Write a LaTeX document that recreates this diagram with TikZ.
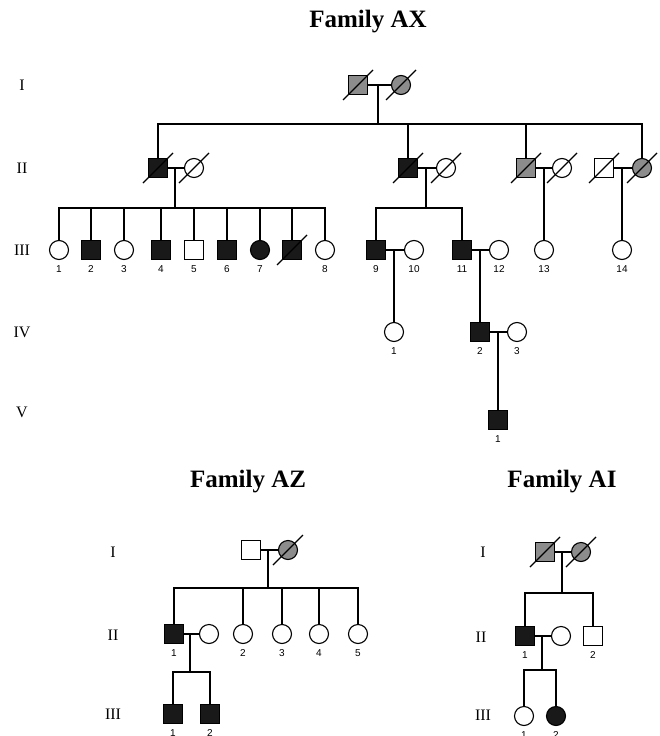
\documentclass[tikz,border=0pt]{standalone}
\usepackage{fontspec}
\setmainfont{Liberation Serif}
\setsansfont{Liberation Sans}
\usepackage{tikz}
\usetikzlibrary{positioning, calc}
\definecolor{affblack}{RGB}{25,25,25}
\definecolor{hatchgray}{RGB}{140,140,140}

\begin{document}
\begin{tikzpicture}[
    x=1pt, y=-1pt,
    link/.style={draw=black, line width=1.1pt},
    male/.style={
        rectangle, draw=black, line width=1.1pt,
        minimum size=19pt, inner sep=0pt, fill=white
    },
    female/.style={
        circle, draw=black, line width=1.1pt,
        minimum size=19pt, inner sep=0pt, fill=white
    },
    aff/.style={fill=affblack},
    carr/.style={fill=hatchgray},
    dead/.style={append after command={
        ([shift={(-15pt,-15pt)}]\tikzlastnode.center) edge[link]
        ([shift={(15pt,15pt)}]\tikzlastnode.center)}},
    num/.style={font=\sffamily\fontsize{10}{12}\selectfont, inner sep=1pt},
    every label/.style={num},
    label distance=4pt,
    gen/.style={font=\fontsize{16}{18}\selectfont},
    title/.style={font=\bfseries\fontsize{25}{28}\selectfont}
]
\useasboundingbox (0,0) rectangle (659,736);

% --- Family AX ---
\node[title] (axT) at (368,22) {Family AX};
\node[gen] (axgI)   at (22,85)  {I};
\node[gen] (axgII)  at (22,168) {II};
\node[gen] (axgIII) at (22,250) {III};
\node[gen] (axgIV)  at (22,332) {IV};
\node[gen] (axgV)   at (22,412) {V};

\node[male, carr, dead]   (axI1) at (358,85) {};
\node[female, carr, dead] (axI2) at (401,85) {};

\node[male, aff, dead]    (axII1) at (158,168) {};
\node[female, dead]       (axII2) at (194,168) {};
\node[male, aff, dead]    (axII3) at (408,168) {};
\node[female, dead]       (axII4) at (446,168) {};
\node[male, carr, dead]   (axII5) at (526,168) {};
\node[female, dead]       (axII6) at (562,168) {};
\node[male, dead]         (axII7) at (604,168) {};
\node[female, carr, dead] (axII8) at (642,168) {};

\node[female, label=below:1]     (axIII1) at (59,250)  {};
\node[male, aff, label=below:2]  (axIII2) at (91,250)  {};
\node[female, label=below:3]     (axIII3) at (124,250) {};
\node[male, aff, label=below:4]  (axIII4) at (161,250) {};
\node[male, label=below:5]       (axIII5) at (194,250) {};
\node[male, aff, label=below:6]  (axIII6) at (227,250) {};
\node[female, aff, label=below:7](axIII7) at (260,250) {};
\node[male, aff, dead]           (axIIIx) at (292,250) {};
\node[female, label=below:8]     (axIII8) at (325,250) {};
\node[male, aff, label=below:9]  (axIII9) at (376,250) {};
\node[female, label=below:10]    (axIII10) at (414,250) {};
\node[male, aff, label=below:11] (axIII11) at (462,250) {};
\node[female, label=below:12]    (axIII12) at (499,250) {};
\node[female, label=below:13]    (axIII13) at (544,250) {};
\node[female, label=below:14]    (axIII14) at (622,250) {};

\node[female, label=below:1]     (axIV1) at (394,332) {};
\node[male, aff, label=below:2]  (axIV2) at (480,332) {};
\node[female, label=below:3]     (axIV3) at (517,332) {};

\node[male, aff, label=below:1]  (axV1) at (498,420) {};

% --- AX lines ---
\coordinate (axIm) at (378,85);
\coordinate (axIs) at (378,124);
\draw[link] (axI1) -- (axI2);
\draw[link] (axIm) -- (axIs);
\draw[link] (axII1) |- (axIs) -| (axII8);
\draw[link] (axII3) -- (axII3 |- axIs);
\draw[link] (axII5) -- (axII5 |- axIs);

\draw[link] (axII1) -- (axII2);
\draw[link] (axII3) -- (axII4);
\draw[link] (axII5) -- (axII6);
\draw[link] (axII7) -- (axII8);

\coordinate (axIIm1) at (175,168);
\coordinate (axIIs1) at (175,208);
\draw[link] (axIIm1) -- (axIIs1);
\draw[link] (axIII1) |- (axIIs1) -| (axIII8);
\foreach \k in {2,...,7} \draw[link] (axIII\k) -- (axIII\k |- axIIs1);
\draw[link] (axIIIx) -- (axIIIx |- axIIs1);

\coordinate (axIIm2) at (426,168);
\coordinate (axIIs2) at (426,208);
\draw[link] (axIIm2) -- (axIIs2);
\draw[link] (axIII9) |- (axIIs2) -| (axIII11);

\coordinate (axIIm3) at (544,168);
\draw[link] (axIIm3) -- (axIII13);
\coordinate (axIIm4) at (622,168);
\draw[link] (axIIm4) -- (axIII14);

\draw[link] (axIII9) -- (axIII10);
\draw[link] (axIII11) -- (axIII12);
\coordinate (axIIIm9) at (394,250);
\draw[link] (axIIIm9) -- (axIV1);
\coordinate (axIIIm11) at (480,250);
\draw[link] (axIIIm11) -- (axIV2);

\draw[link] (axIV2) -- (axIV3);
\coordinate (axIVm2) at (498,332);
\draw[link] (axIVm2) -- (axV1);

% --- Family AZ ---
\node[title] (azT) at (248,482) {Family AZ};
\node[gen] (azgI)   at (113,552) {I};
\node[gen] (azgII)  at (113,635) {II};
\node[gen] (azgIII) at (113,714) {III};

\node[male]               (azI1) at (251,550) {};
\node[female, carr, dead] (azI2) at (288,550) {};

\node[male, aff, label=below:1] (azII1)  at (174,634) {};
\node[female]                   (azII1s) at (209,634) {};
\node[female, label=below:2]    (azII2)  at (243,634) {};
\node[female, label=below:3]    (azII3)  at (282,634) {};
\node[female, label=below:4]    (azII4)  at (319,634) {};
\node[female, label=below:5]    (azII5)  at (358,634) {};

\node[male, aff, label=below:1] (azIII1) at (173,714) {};
\node[male, aff, label=below:2] (azIII2) at (210,714) {};

\coordinate (azIm) at (268,550);
\coordinate (azIs) at (268,588);
\draw[link] (azI1) -- (azI2);
\draw[link] (azIm) -- (azIs);
\draw[link] (azII1) |- (azIs) -| (azII5);
\foreach \k in {2,3,4} \draw[link] (azII\k) -- (azII\k |- azIs);

\coordinate (azIIm) at (190,634);
\coordinate (azIIs) at (190,672);
\draw[link] (azII1) -- (azII1s);
\draw[link] (azIIm) -- (azIIs);
\draw[link] (azIII1) |- (azIIs) -| (azIII2);

% --- Family AI ---
\node[title] (aiT) at (562,482) {Family AI};
\node[gen] (aigI)   at (483,552) {I};
\node[gen] (aigII)  at (481,637) {II};
\node[gen] (aigIII) at (483,715) {III};

\node[male, carr, dead]   (aiI1) at (545,552) {};
\node[female, carr, dead] (aiI2) at (581,552) {};

\node[male, aff, label=below:1] (aiII1)  at (525,636) {};
\node[female]                   (aiII1s) at (561,636) {};
\node[male, label=below:2]      (aiII2)  at (593,636) {};

\node[female, label=below:1]      (aiIII1) at (524,716) {};
\node[female, aff, label=below:2] (aiIII2) at (556,716) {};

\coordinate (aiIm) at (562,552);
\coordinate (aiIs) at (562,593);
\draw[link] (aiI1) -- (aiI2);
\draw[link] (aiIm) -- (aiIs);
\draw[link] (aiII1) |- (aiIs) -| (aiII2);

\coordinate (aiIIm) at (542,636);
\coordinate (aiIIs) at (542,670);
\draw[link] (aiII1) -- (aiII1s);
\draw[link] (aiIIm) -- (aiIIs);
\draw[link] (aiIII1) |- (aiIIs) -| (aiIII2);

\end{tikzpicture}
\end{document}
